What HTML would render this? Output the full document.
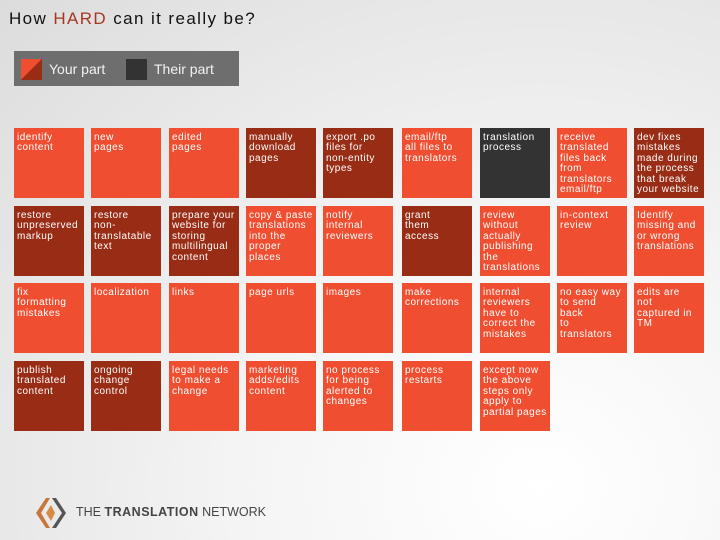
<!DOCTYPE html>
<html><head><meta charset="utf-8">
<style>
body{margin:0;}
#slide{position:relative;width:720px;height:540px;overflow:hidden;font-family:"Liberation Sans",sans-serif;
background:radial-gradient(ellipse at 75% 90%,#ffffff 0%,#f4f4f4 40%,#dcdcdc 100%);}
.tile{position:absolute;width:70px;height:70px;box-sizing:border-box;padding:5px 2px 0 3px;color:#fff;font-size:10px;line-height:10.4px;letter-spacing:0.5px;white-space:nowrap;overflow:hidden;}
.o{background:#f04e31;}
.d{background:#992c15;}
.g{background:#333333;}
</style></head><body>
<div id="slide">
<div style="position:absolute;left:9px;top:9px;font-size:17px;letter-spacing:1.4px;color:#111;">How <span style="color:#a8361f">HARD</span> can it really be?</div>
<div style="position:absolute;left:14px;top:51px;width:225px;height:35px;background:#6e6e6e;">
  <div style="position:absolute;left:7px;top:8px;width:21px;height:21px;background:linear-gradient(135deg,#f04e31 50%,#992c15 50%);"></div>
  <div style="position:absolute;left:35px;top:10px;color:#f2f2f2;font-size:14px;">Your part</div>
  <div style="position:absolute;left:112px;top:8px;width:21px;height:21px;background:#333;"></div>
  <div style="position:absolute;left:140px;top:10px;color:#f2f2f2;font-size:14px;">Their part</div>
</div>
<div id="grid"></div>
<svg style="position:absolute;left:34px;top:496px" width="40" height="34" viewBox="0 0 40 34">
  <path d="M12 2 L2 17 L12 32 L16 32 L7 17 L16 2Z" fill="#c8773a"/>
  <path d="M18 2 L28 17 L18 32 L22 32 L32 17 L22 2Z" fill="#555"/>
  <path d="M17 9 L12 17 L17 25 L21 17Z" fill="#d88a45"/>
</svg>
<div style="position:absolute;left:76px;top:505px;font-size:12.5px;color:#444;">THE <b style="letter-spacing:0.5px">TRANSLATION</b> NETWORK</div>
</div>
<script>
const row1 = [["identify<br>content","o"],["new<br>pages","o"],["edited<br>pages","o"],["manually<br>download<br>pages","d"],["export .po<br>files for<br>non-entity<br>types","d"],["email/ftp<br>all files to<br>translators","o"],["translation<br>process","g"],["receive<br>translated<br>files back<br>from<br>translators<br>email/ftp","o"],["dev fixes<br>mistakes<br>made during<br>the process<br>that break<br>your website","d"]];
const row2 = [["restore<br>unpreserved<br>markup","d"],["restore<br>non-<br>translatable<br>text","d"],["prepare your<br>website for<br>storing<br>multilingual<br>content","d"],["copy &amp; paste<br>translations<br>into the<br>proper<br>places","o"],["notify<br>internal<br>reviewers","o"],["grant<br>them<br>access","d"],["review<br>without<br>actually<br>publishing<br>the<br>translations","o"],["in-context<br>review","o"],["Identify<br>missing and<br>or wrong<br>translations","o"]];
const row3 = [["fix<br>formatting<br>mistakes","o"],["localization","o"],["links","o"],["page urls","o"],["images","o"],["make<br>corrections","o"],["internal<br>reviewers<br>have to<br>correct the<br>mistakes","o"],["no easy way<br>to send<br>back<br>to<br>translators","o"],["edits are<br>not<br>captured in<br>TM","o"]];
const row4 = [["publish<br>translated<br>content","d"],["ongoing<br>change<br>control","d"],["legal needs<br>to make a<br>change","o"],["marketing<br>adds/edits<br>content","o"],["no process<br>for being<br>alerted to<br>changes","o"],["process<br>restarts","o"],["except now<br>the above<br>steps only<br>apply to<br>partial pages","o"]];
const rows=[row1,row2,row3,row4];
const colX=[14,91,169,246,323,402,480,557,634];
const rowY=[128,206,283,361];
const grid=document.getElementById('grid');
rows.forEach((r,ri)=>r.forEach((t,ci)=>{
  const el=document.createElement('div');
  el.className='tile '+t[1];
  el.style.left=colX[ci]+'px';el.style.top=rowY[ri]+'px';
  el.innerHTML=t[0];
  
  
  grid.appendChild(el);
}));
</script>
</body></html>
